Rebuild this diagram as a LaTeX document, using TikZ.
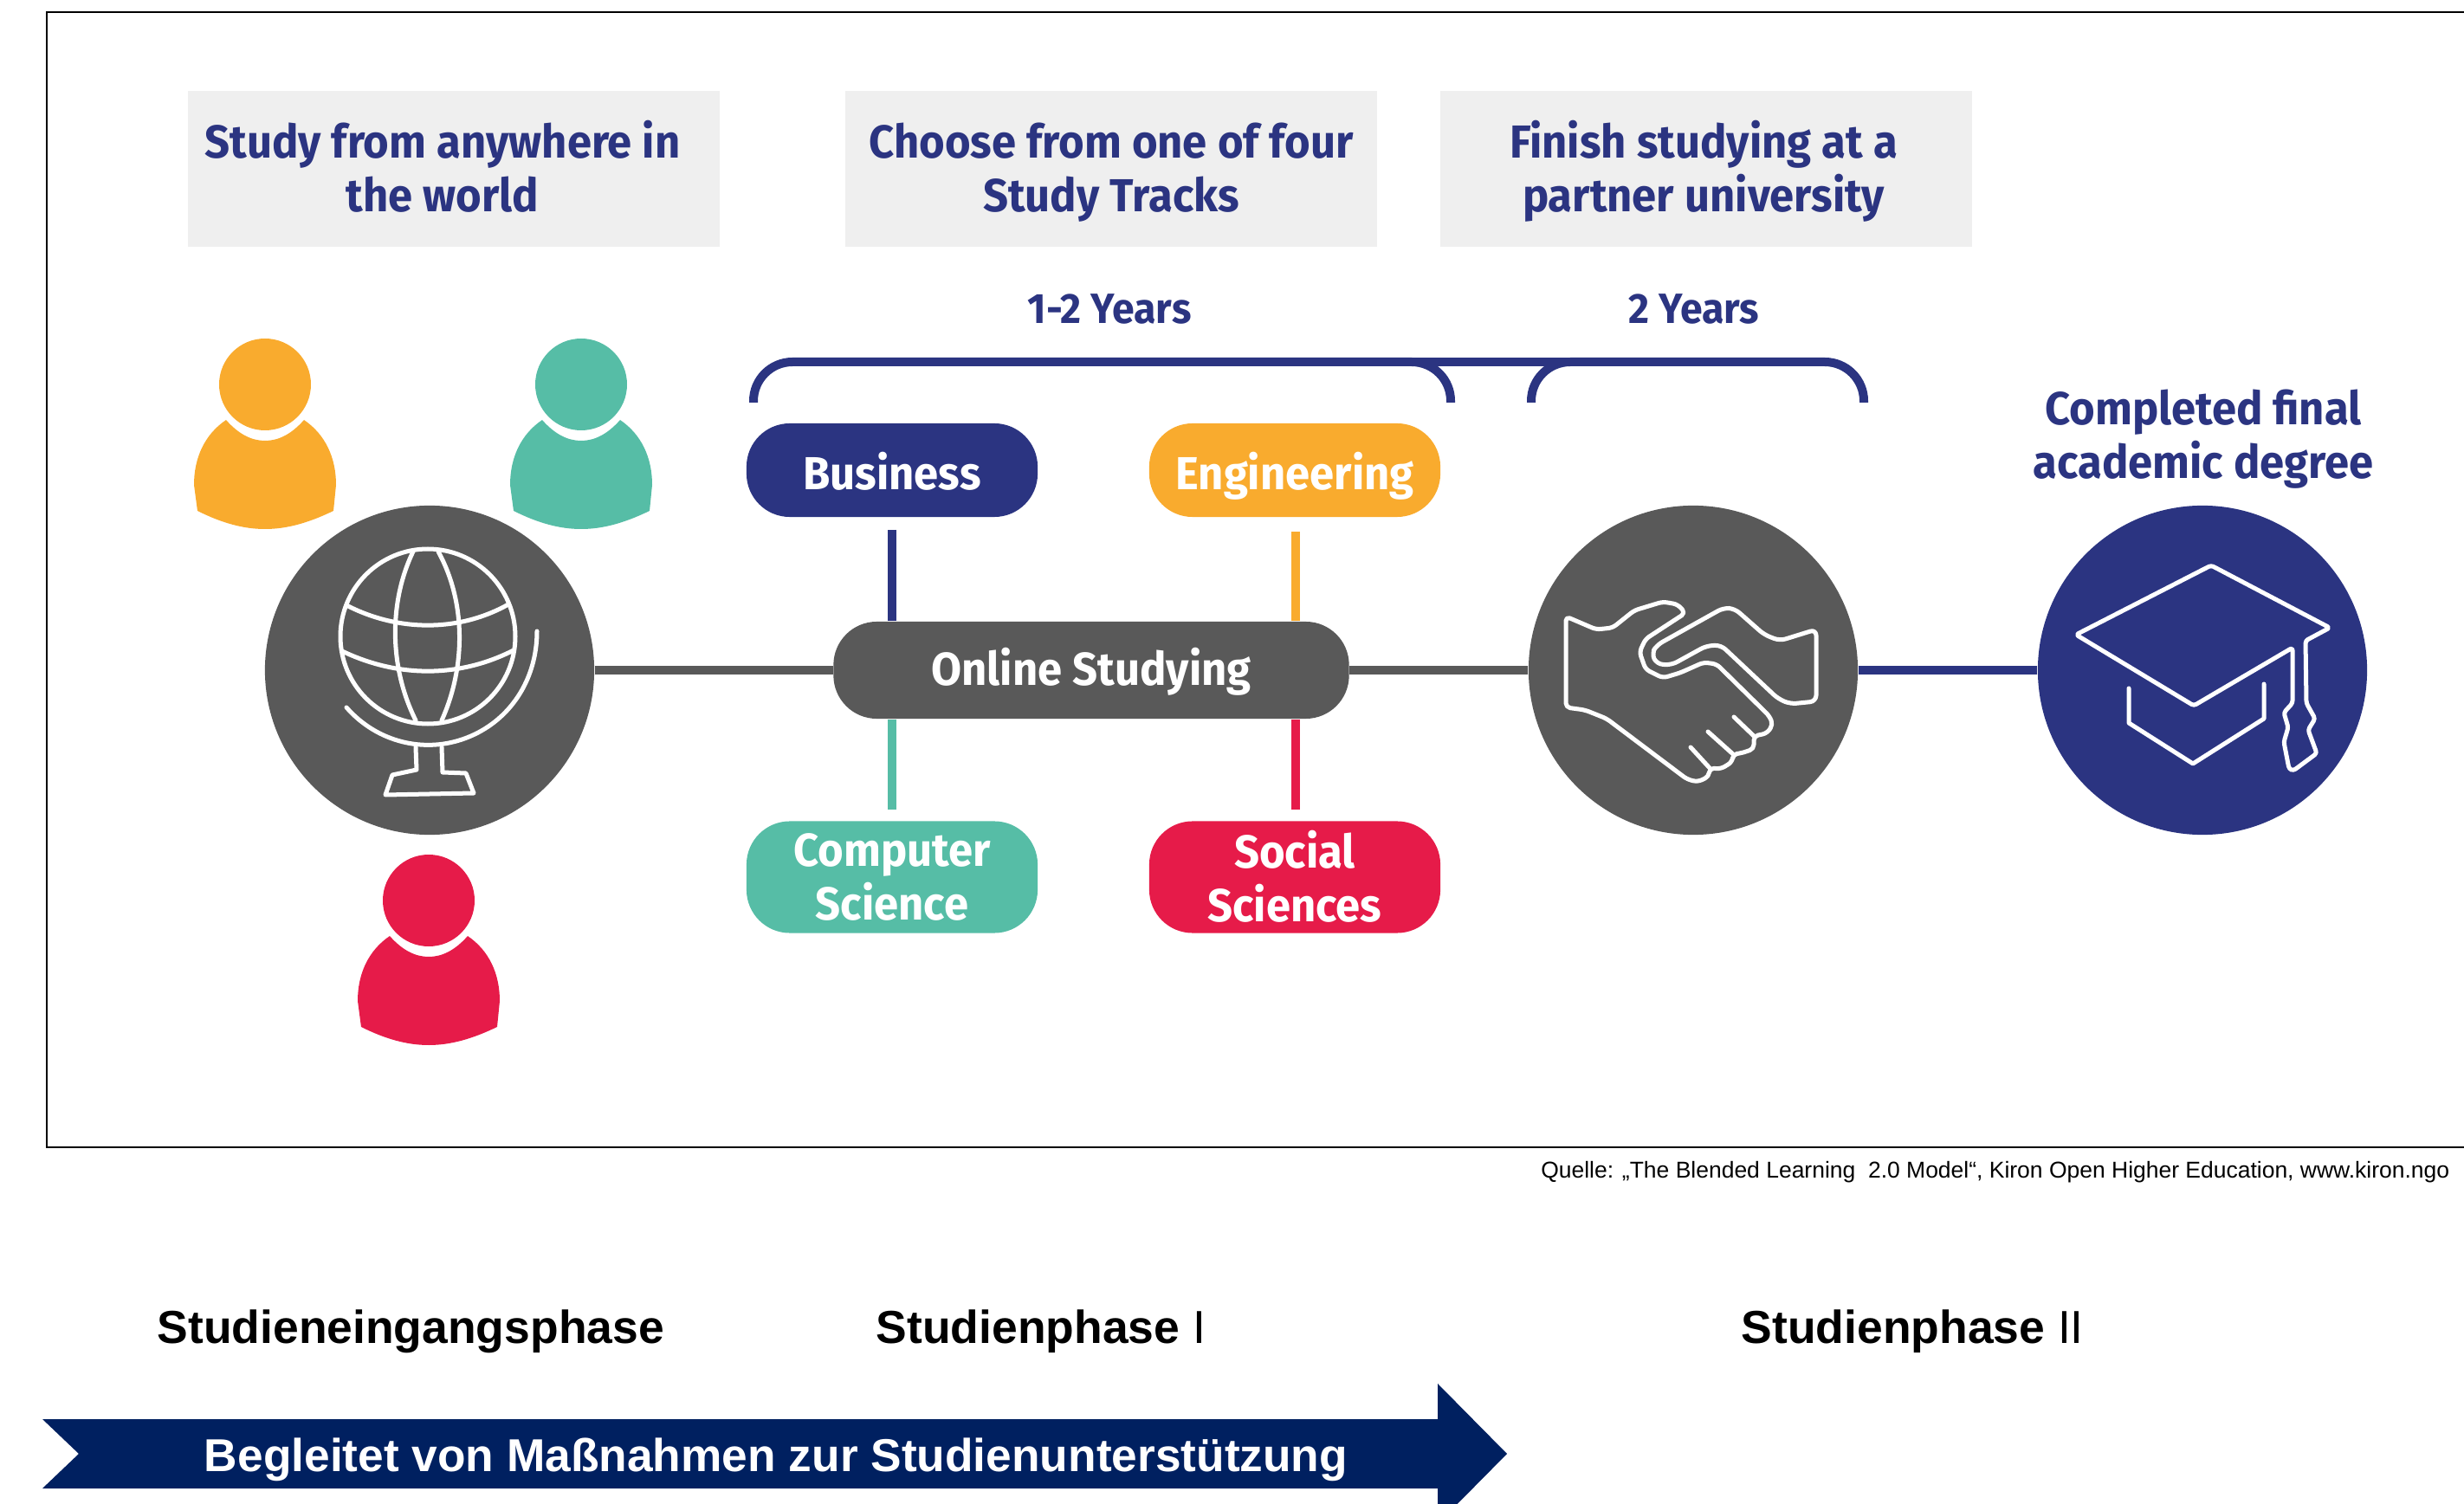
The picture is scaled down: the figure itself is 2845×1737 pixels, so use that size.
\documentclass[tikz,border=0pt]{standalone}
\usepackage{fontspec}
\setmainfont{Liberation Sans}
\newfontfamily\kironfont{Fira Sans}[FakeStretch=0.95]
\usetikzlibrary{calc}

\definecolor{kironnavy}{HTML}{2B3481}
\definecolor{kirongray}{HTML}{595959}
\definecolor{kironorange}{HTML}{F9AB2E}
\definecolor{kironteal}{HTML}{56BDA6}
\definecolor{kironred}{HTML}{E61B49}
\definecolor{boxgray}{HTML}{EFEFEF}
\definecolor{arrownavy}{HTML}{002060}

\tikzset{
    capshift/.store in=\capshift,
    capshift=0pt,
    capheight/.store in=\capheight,
    capheight=14pt,
    twolines/.style={capheight=31.6pt},
    capcentred/.style={
        execute at begin node={\rule{0pt}{\dimexpr\capheight+2\dimexpr\capshift\relax\relax}},
        execute at end node={\rule[-3.5pt]{0pt}{3.5pt}}},
    person/.pic={
        \path[pic actions] (0,0) circle[radius=53];
        \path[pic actions] (-45,41) .. controls (-70,58) and (-82,85) .. (-82,116)
            -- (-78,146) .. controls (-50,160) and (-25,167) .. (0,167)
            .. controls (25,167) and (50,160) .. (79,146) -- (82,116)
            .. controls (82,85) and (70,58) .. (45,41)
            .. controls (30,58) and (15,65) .. (0,65)
            .. controls (-15,65) and (-30,58) .. (-45,41) -- cycle;
    },
    headbox/.style={capcentred, twolines, fill=boxgray, minimum width=6.13cm, minimum height=1.8cm, inner sep=0pt,
        text=kironnavy, align=center, font=\kironfont\bfseries\fontsize{15.2}{17.6}\selectfont},
    headtext/.style={capcentred, twolines, text=kironnavy, align=center, inner sep=0pt,
        font=\kironfont\bfseries\fontsize{15.2}{17.6}\selectfont},
    yeartext/.style={text=kironnavy, inner sep=0pt,
        font=\kironfont\bfseries\fontsize{13.9}{15}\selectfont},
    track/.style={capcentred, rounded corners=0.5cm, minimum width=3.36cm, minimum height=1.08cm, inner sep=0pt,
        text=white, align=center, font=\kironfont\bfseries\fontsize{15.2}{17.6}\selectfont},
    bigdisc/.style={circle, minimum size=3.8cm, inner sep=0pt},
    spoke/.style={line width=0.1cm},
    icon/.style={draw=white, line width=0.05cm, line join=round, line cap=round},
    phase/.style={anchor=west, inner sep=0pt, font=\fontsize{15.2}{18}\selectfont},
}

\begin{document}
\begin{tikzpicture}[x=0.01cm, y=-0.01cm]
    \useasboundingbox (0,0) rectangle (2845,1737);
    \clip (0,0) rectangle (2845,1737);

    \draw[line width=0.02cm] (54,14) rectangle (2900,1325);

    \node (study) [headbox] at (524,195) {Study from anywhere in\hspace*{0.26cm}\\the world\hspace*{0.26cm}};
    \node (choose) [headbox] at (1283,195) {Choose from one of four\\Study Tracks};
    \node (finish) [headbox] at (1970,195) {Finish studying at a\hspace*{0.06cm}\\partner university\hspace*{0.06cm}};

    \node (firstyears) [yeartext] at (1281,357) {1-2 Years};
    \node (lastyears) [yeartext] at (1956,357) {2 Years};
    \node (degree) [headtext] at (2544,503) {Completed final\\academic degree};

    \coordinate (bracketA) at (870,465);
    \coordinate (bracketB) at (1675,465);
    \coordinate (bracketC) at (1768,465);
    \coordinate (bracketD) at (2152,465);
    \coordinate (bracketLeftTop) at (1300,418);
    \coordinate (bracketRightTop) at (1960,418);
    \draw[kironnavy, spoke, rounded corners=0.45cm] (bracketA) |- (bracketLeftTop) -| (bracketB);
    \draw[kironnavy, spoke, rounded corners=0.45cm] (bracketC) |- (bracketRightTop) -| (bracketD);
    \draw[kironnavy, spoke] (bracketLeftTop) -- (bracketRightTop);

    \pic[fill=kironorange] at (306,444) {person};
    \pic[fill=kironteal] at (671,444) {person};
    \pic[fill=kironred] at (495,1040) {person};

    \node (globe) [bigdisc, fill=kirongray] at (496,774) {};
    \node (shake) [bigdisc, fill=kirongray] at (1955,774) {};
    \node (gradcap) [bigdisc, fill=kironnavy] at (2543,774) {};

    \node (online) [track, capshift=-0.4pt, fill=kirongray, minimum width=5.95cm, minimum height=1.12cm] at (1260,774) {Online Studying};
    \node (business) [track, capshift=1.1pt, fill=kironnavy] at (1030,543) {Business};
    \node (engineering) [track, capshift=1.1pt, fill=kironorange] at (1495,543) {Engineering};
    \node (computer) [track, twolines, fill=kironteal, minimum height=1.29cm] at (1030,1013) {Computer\\Science};
    \node (social) [track, twolines, capshift=0.7pt, fill=kironred, minimum height=1.29cm] at (1495,1013) {Social\\Sciences};

    \coordinate (businessEnd) at (1030,612);
    \coordinate (engineeringEnd) at (1496,614);
    \coordinate (computerEnd) at (1030,935);
    \coordinate (socialEnd) at (1496,935);
    \draw[kironnavy, spoke] (businessEnd) -- (businessEnd |- online.north);
    \draw[kironorange, spoke] (engineeringEnd) -- (engineeringEnd |- online.north);
    \draw[kironteal, spoke] (computerEnd) -- (computerEnd |- online.south);
    \draw[kironred, spoke] (socialEnd) -- (socialEnd |- online.south);

    \draw[kirongray, spoke] (globe) -- (online);
    \draw[kirongray, spoke] (online) -- (shake);
    \draw[kironnavy, spoke] (shake) -- (gradcap);

    \draw[icon] (494,735) circle[radius=101];
    \draw[icon] (477,637) .. controls (449,695) and (449,770) .. (480,832);
    \draw[icon] (506,637) .. controls (538,695) and (538,770) .. (510,832);
    \draw[icon] (400,699) .. controls (460,730) and (530,730) .. (587,698);
    \draw[icon] (395,752) .. controls (460,783) and (530,783) .. (593,751);
    \draw[icon] (620,729) .. controls (620,786) and (588,833) .. (539,852)
        .. controls (490,871) and (435,857) .. (400,817);
    \draw[icon] (480,863) -- (481,889) -- (453,895) -- (445,918) -- (547,916)
        -- (538,893) -- (511,892) -- (510,863);

    \draw[icon, rounded corners=0.05cm] (1808,712) -- (1843,727) -- (1862,725) -- (1887,705) -- (1920,695)
        -- (1937,698) -- (1946,708) -- (1900,738) -- (1893,753) -- (1900,773) -- (1920,783)
        -- (1940,777) -- (1967,765) -- (1982,767) -- (2043,827) -- (2047,837) -- (2040,847) -- (2025,850)
        -- (2025,865) -- (2010,870) -- (2001,871) -- (2000,880) -- (1987,888) -- (1974,887)
        -- (1973,897) -- (1960,903) -- (1948,900) -- (1855,830) -- (1830,820) -- (1808,817) -- cycle;
    \draw[icon, rounded corners=0.07cm] (2097,727) -- (2097,810) -- (2067,813) -- (2053,807) -- (1987,745)
        -- (1970,746) -- (1930,768) -- (1913,767) -- (1907,755) -- (1913,745) -- (1990,702) -- (2003,703)
        -- (2037,733) -- (2055,740) -- cycle;
    \draw[icon] (2002,828) -- (2025,850);
    \draw[icon] (1972,845) -- (2001,871);
    \draw[icon] (1952,863) -- (1974,887);

    \draw[icon, rounded corners=0.03cm] (2647,748) -- (2533,815) -- (2397,733) -- (2553,653) -- (2690,725)
        -- (2662,740) -- (2663,812) -- (2673,830) -- (2665,843) -- (2675,870) -- (2648,890) -- (2643,888)
        -- (2637,857) -- (2642,840) -- (2637,823) -- (2647,812) -- cycle;
    \draw[icon] (2458,795) -- (2458,835) -- (2532,882) -- (2614,830) -- (2614,790);

    \node (source) [anchor=east, inner sep=0pt, font=\fontsize{7.53}{10}\selectfont] at (2829,1354)
        {Quelle: „The Blended Learning~~2.0 Model“, Kiron Open Higher Education, www.kiron.ngo};

    \node (entry) [phase] at (181,1538) {\bfseries Studieneingangsphase};
    \node (phaseone) [phase] at (1011,1538) {\bfseries Studienphase {\mdseries I}};
    \node (phasetwo) [phase] at (2010,1538) {\bfseries Studienphase {\mdseries II}};

    \fill[arrownavy] (49,1639) -- (1660,1639) -- (1660,1598) -- (1740,1679) -- (1660,1760)
        -- (1660,1719) -- (49,1719) -- (91,1679) -- cycle;
    \node (support) [inner sep=0pt, text=white, font=\bfseries\fontsize{15.15}{18}\selectfont] at (896,1686)
        {Begleitet von Maßnahmen zur Studienunterstützung};
\end{tikzpicture}
\end{document}
